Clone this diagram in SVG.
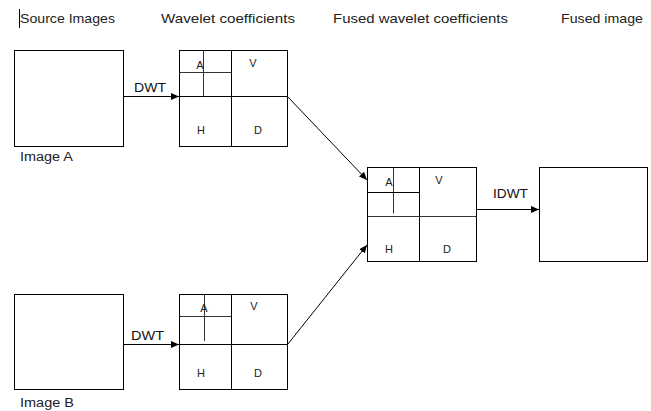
<svg xmlns="http://www.w3.org/2000/svg" width="651" height="411" viewBox="0 0 651 411">
  <style>
    .box { fill: #fff; stroke: #000; stroke-width: 1; }
    .div { stroke: #000; stroke-width: 1; fill: none; }
    .sub { stroke: #333; stroke-width: 1; fill: none; }
    .head { font-family: "Liberation Sans", Arial, sans-serif; font-size: 13.5px; fill: #222; }
    .cap { font-family: "Liberation Sans", Arial, sans-serif; font-size: 12.5px; fill: #222; }
    .lbl { font-family: "Liberation Sans", Arial, sans-serif; font-size: 11px; fill: #222; text-anchor: middle; }
    .op { font-family: "Liberation Sans", Arial, sans-serif; font-size: 13.5px; fill: #111; }
    .conn { stroke: #000; stroke-width: 1; fill: none; marker-end: url(#arrow); }
  </style>
  <defs>
    <marker id="arrow" markerUnits="userSpaceOnUse" markerWidth="9" markerHeight="8" refX="8" refY="3.5" orient="auto">
      <path d="M0,0 L8,3.5 L0,7 z" fill="#000"/>
    </marker>
  </defs>
  <rect width="651" height="411" fill="#fff"/>

  <!-- column headings -->
  <g id="headings">
    <line x1="19.5" y1="9" x2="19.5" y2="28" stroke="#000" stroke-width="1"/>
    <text class="head" x="20" y="23" textLength="95" lengthAdjust="spacingAndGlyphs">Source Images</text>
    <text class="head" x="161" y="23" textLength="134" lengthAdjust="spacingAndGlyphs">Wavelet coefficients</text>
    <text class="head" x="333" y="23" textLength="175" lengthAdjust="spacingAndGlyphs">Fused wavelet coefficients</text>
    <text class="head" x="561" y="23" textLength="82" lengthAdjust="spacingAndGlyphs">Fused image</text>
  </g>

  <!-- source image A -->
  <g id="imageA">
    <rect class="box" x="14.5" y="50.5" width="109" height="96"/>
    <text class="cap" x="20" y="161" textLength="53" lengthAdjust="spacingAndGlyphs">Image A</text>
  </g>

  <!-- source image B -->
  <g id="imageB">
    <rect class="box" x="14.5" y="294.5" width="109" height="95"/>
    <text class="cap" x="20" y="407" textLength="54" lengthAdjust="spacingAndGlyphs">Image B</text>
  </g>

  <!-- wavelet coefficients of A -->
  <g id="coeffA">
    <rect class="box" x="179.5" y="50.5" width="108" height="96"/>
    <line class="div" x1="231.5" y1="50.5" x2="231.5" y2="146.5"/>
    <line class="div" x1="179.5" y1="96.5" x2="287.5" y2="96.5"/>
    <line class="sub" x1="203.5" y1="50.5" x2="203.5" y2="96.5"/>
    <line class="sub" x1="179.5" y1="72.5" x2="231.5" y2="72.5"/>
    <text class="lbl" x="200" y="69">A</text>
    <text class="lbl" x="253" y="67">V</text>
    <text class="lbl" x="201" y="134">H</text>
    <text class="lbl" x="258" y="134">D</text>
  </g>

  <!-- wavelet coefficients of B -->
  <g id="coeffB">
    <rect class="box" x="179.5" y="294.5" width="108" height="95"/>
    <line class="div" x1="231.5" y1="294.5" x2="231.5" y2="389.5"/>
    <line class="div" x1="179.5" y1="344.5" x2="287.5" y2="344.5"/>
    <line class="sub" x1="204.5" y1="294.5" x2="204.5" y2="341"/>
    <line class="sub" x1="179.5" y1="316.5" x2="231.5" y2="316.5"/>
    <text class="lbl" x="204" y="312">A</text>
    <text class="lbl" x="254" y="310">V</text>
    <text class="lbl" x="201" y="377">H</text>
    <text class="lbl" x="258" y="377">D</text>
  </g>

  <!-- fused wavelet coefficients -->
  <g id="fusedCoeff">
    <rect class="box" x="367.5" y="167.5" width="109" height="94"/>
    <line class="div" x1="419.5" y1="167.5" x2="419.5" y2="261.5"/>
    <line class="sub" x1="367.5" y1="216.5" x2="476.5" y2="216.5"/>
    <line class="sub" x1="393.5" y1="167.5" x2="393.5" y2="213.5"/>
    <line class="div" x1="367.5" y1="192.5" x2="419.5" y2="192.5"/>
    <text class="lbl" x="389" y="186">A</text>
    <text class="lbl" x="439" y="184">V</text>
    <text class="lbl" x="389" y="253">H</text>
    <text class="lbl" x="447" y="253">D</text>
  </g>

  <!-- fused image -->
  <g id="fusedImage">
    <rect class="box" x="539.5" y="167.5" width="108" height="94"/>
  </g>

  <!-- transforms and data flow -->
  <g id="connectors">
    <line class="conn" x1="123.5" y1="96.5" x2="179" y2="96.5"/>
    <text class="op" x="134" y="92" textLength="32" lengthAdjust="spacingAndGlyphs">DWT</text>
    <line class="conn" x1="123.5" y1="344.5" x2="179" y2="344.5"/>
    <text class="op" x="131" y="340" textLength="33" lengthAdjust="spacingAndGlyphs">DWT</text>
    <line class="conn" x1="287.5" y1="96.5" x2="367" y2="180"/>
    <line class="conn" x1="287.5" y1="344.5" x2="367" y2="245"/>
    <line class="conn" x1="476.5" y1="209.5" x2="539" y2="209.5"/>
    <text class="op" x="493" y="198" textLength="35" lengthAdjust="spacingAndGlyphs">IDWT</text>
  </g>
</svg>
